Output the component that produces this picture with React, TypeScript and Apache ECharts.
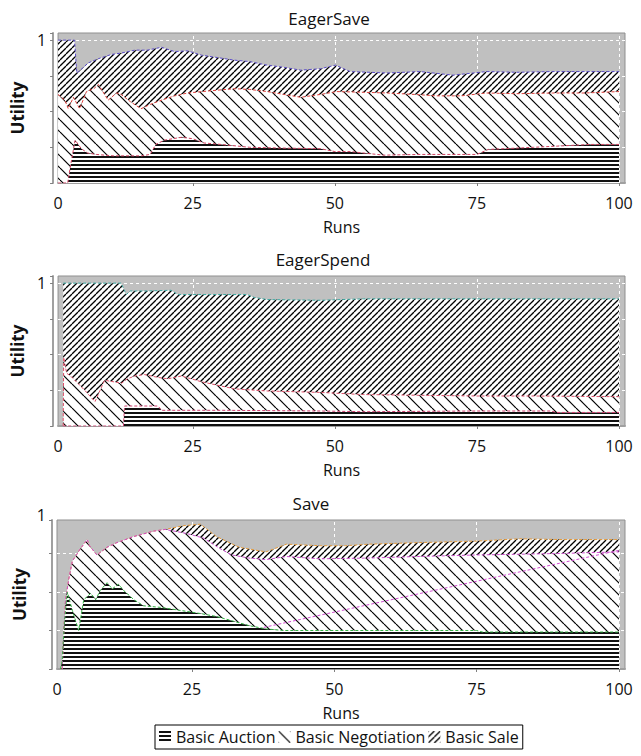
import React, { useEffect, useRef } from 'react';
import * as echarts from 'echarts';

const FONT = '"Open Sans", "Noto Sans", sans-serif';

const PANEL_TITLES = ['EagerSave', 'EagerSpend', 'Save'];
const SERIES_NAMES = ['Basic Auction', 'Basic Negotiation', 'Basic Sale'];
const X_TICKS = [25, 50, 75, 100];
const X_LABEL_VALUES = [1.3, 25, 50, 75, 100];

// ---- EagerSave (cumulative boundaries: top of each band) ----
const eagerSaveSaleTop: [number, number][] = [
  [1.3, 1.0], [4.2, 1.0], [4.6, 0.77], [5.5, 0.8], [6.6, 0.84], [8.4, 0.87], [10.7, 0.9], [12.5, 0.91],
  [14.8, 0.93], [17, 0.93], [19.5, 0.95], [21.8, 0.92], [24.1, 0.925], [26.5, 0.895], [29, 0.88],
  [32.3, 0.86], [35, 0.85], [38.1, 0.825], [41, 0.81], [44, 0.79], [47.5, 0.8], [50.1, 0.825],
  [52.7, 0.78], [56, 0.775], [59.2, 0.77], [65, 0.78], [70.8, 0.755], [76.7, 0.78], [82, 0.775],
  [88.3, 0.78], [94, 0.78], [100, 0.78],
];
const eagerSaveNegotiationTop: [number, number][] = [
  [1.3, 0.62], [2.5, 0.58], [3.1, 0.52], [4.0, 0.6], [5.1, 0.52], [6.3, 0.64], [7.6, 0.66], [8.4, 0.69],
  [10.1, 0.58], [11.6, 0.63], [12.4, 0.62], [14, 0.57], [15.9, 0.52], [17.5, 0.55], [19.5, 0.58],
  [21.8, 0.61], [24.1, 0.63], [28, 0.645], [32.3, 0.66], [35, 0.655], [38.1, 0.64], [41, 0.62],
  [44, 0.6], [47.5, 0.62], [50.3, 0.64], [55, 0.635], [59.2, 0.63], [64, 0.62], [68, 0.61],
  [72.2, 0.61], [76.7, 0.63], [82, 0.625], [88.3, 0.63], [94, 0.63], [100, 0.64],
];
const eagerSaveAuctionTop: [number, number][] = [
  [1.3, 0], [3.0, 0], [3.4, 0.1], [4.3, 0.3], [5.4, 0.24], [6.5, 0.21], [8, 0.2], [11, 0.19], [16, 0.19],
  [17.5, 0.2], [18.5, 0.27], [20, 0.3], [23, 0.32], [25, 0.31], [27, 0.28], [30, 0.27], [35, 0.25],
  [40, 0.245], [47.5, 0.24], [50, 0.22], [52.7, 0.22], [58.6, 0.195], [65, 0.2], [75, 0.2], [77, 0.235],
  [85, 0.25], [90, 0.26], [95, 0.27], [100, 0.27],
];

// ---- EagerSpend ----
const eagerSpendSaleTop: [number, number][] = [
  [2.2, 1.0], [12.4, 1.0], [13.3, 0.92], [14, 0.945], [17, 0.945], [21.2, 0.95], [22.4, 0.92],
  [28, 0.92], [34.6, 0.92], [35.8, 0.9], [38.1, 0.885], [47.5, 0.88], [55, 0.89], [65, 0.89],
  [75, 0.89], [85, 0.89], [100, 0.89],
];
const eagerSpendNegotiationTop: [number, number][] = [
  [2.2, 0], [2.3, 0.48], [2.8, 0.37], [3.5, 0.35], [6.0, 0.25], [7.8, 0.17], [8.7, 0.25], [9.5, 0.32],
  [12.5, 0.3], [13.5, 0.33], [14.8, 0.35], [16.5, 0.36], [18.9, 0.34], [20.6, 0.33], [23, 0.35],
  [26.5, 0.31], [32.3, 0.26], [38.1, 0.245], [47.5, 0.235], [55, 0.22], [65, 0.215], [75, 0.21],
  [85, 0.21], [100, 0.205],
];
const eagerSpendAuctionTop: [number, number][] = [
  [2.2, 0], [12.8, 0], [13.0, 0.14], [18.9, 0.14], [19.5, 0.11], [30, 0.11], [47.5, 0.105], [55, 0.1],
  [75, 0.105], [88, 0.105], [89, 0.095], [100, 0.095],
];

// ---- Save ----
const saveSaleTop: [number, number][] = [
  [2.2, 0], [2.5, 0.25], [2.8, 0.45], [3.4, 0.59], [4.0, 0.7], [5.4, 0.78], [6.6, 0.84], [7.0, 0.8],
  [8.3, 0.74], [10.1, 0.79], [11.8, 0.82], [14.8, 0.86], [18.3, 0.895], [20.3, 0.906], [23.5, 0.93],
  [26.5, 0.94], [29.3, 0.86], [33.3, 0.79], [38, 0.76], [41.6, 0.81], [47.5, 0.8], [52, 0.8],
  [56, 0.81], [64.6, 0.82], [75, 0.83], [82.6, 0.845], [90, 0.84], [100, 0.84],
];
const saveNegotiationTop: [number, number][] = [
  [2.2, 0], [2.5, 0.25], [2.8, 0.45], [3.4, 0.59], [4.0, 0.7], [5.4, 0.78], [6.6, 0.84], [7.0, 0.8],
  [8.3, 0.74], [10.1, 0.79], [11.8, 0.82], [14.8, 0.86], [18.3, 0.895], [20.3, 0.906], [24, 0.88],
  [27, 0.85], [30, 0.78], [32, 0.74], [35, 0.72], [38, 0.71], [41.6, 0.73], [47.5, 0.715], [56, 0.72],
  [64.6, 0.73], [75, 0.74], [82.6, 0.745], [90, 0.75], [100, 0.76],
];
const saveAuctionTop: [number, number][] = [
  [1.9, 0], [2.2, 0.05], [2.6, 0.3], [3.1, 0.5], [4.0, 0.38], [5.1, 0.25], [6.0, 0.45], [7.2, 0.49],
  [8.1, 0.45], [8.9, 0.51], [10.1, 0.56], [11.0, 0.52], [12.1, 0.55], [13.0, 0.51], [14.8, 0.45],
  [16.5, 0.41], [19.5, 0.4], [23, 0.38], [26.5, 0.36], [29.4, 0.34], [32.3, 0.31], [35.2, 0.28],
  [38.1, 0.26], [41.1, 0.25], [47.5, 0.25], [60, 0.25], [75, 0.25], [76, 0.24], [100, 0.24],
];
const saveNegotiationTrend: [number, number][] = [[37.6, 0.27], [100, 0.77]];

function hatch(kind: 'h' | 'b' | 'f') {
  const s = kind === 'h' ? 4 : kind === 'b' ? 12 : 6;
  const c = document.createElement('canvas');
  c.width = s;
  c.height = s;
  const g = c.getContext('2d')!;
  g.fillStyle = '#ffffff';
  g.fillRect(0, 0, s, s);
  if (kind === 'h') {
    g.fillStyle = '#111111';
    g.fillRect(0, 0, s, 2);
  } else {
    g.strokeStyle = '#000000';
    g.lineWidth = kind === 'b' ? 1.2 : 1.3;
    for (const k of [-1, 0, 1]) {
      g.beginPath();
      if (kind === 'b') {
        g.moveTo(k * s, 0);
        g.lineTo(k * s + s, s);
      } else {
        g.moveTo(k * s, s);
        g.lineTo(k * s + s, 0);
      }
      g.stroke();
    }
  }
  return { image: c, repeat: 'repeat' };
}

export default function App() {
  const ref = useRef<HTMLDivElement>(null);

  useEffect(() => {
    if (!ref.current) return;
    const chart = echarts.init(ref.current, null, { renderer: 'svg' });
    const pAuction = hatch('h');
    const pNeg = hatch('b');
    const pSale = hatch('f');

    const grids = [
      { top: 33, height: 150 },
      { top: 276, height: 150 },
      { top: 520, height: 149 },
    ].map((g) => ({
      left: 57,
      right: 16,
      top: g.top,
      height: g.height,
      show: true,
      backgroundColor: '#c0c0c0',
      borderColor: '#8f8f8f',
      borderWidth: 1,
    }));

    const panels = [
      { sale: eagerSaveSaleTop, neg: eagerSaveNegotiationTop, auc: eagerSaveAuctionTop, colors: ['#5a4bc8', '#e0403c', '#d04060'] },
      { sale: eagerSpendSaleTop, neg: eagerSpendNegotiationTop, auc: eagerSpendAuctionTop, colors: ['#3aa7a0', '#e0506a', '#d04070'] },
      { sale: saveSaleTop, neg: saveNegotiationTop, auc: saveAuctionTop, colors: ['#e49a3a', '#d04cd0', '#30b040'] },
    ];

    const area = (name: string, data: [number, number][], idx: number, pattern: any, color: string, extra: any = {}) => ({
      type: 'line',
      name,
      xAxisIndex: idx,
      yAxisIndex: idx,
      data,
      symbol: 'none',
      silent: true,
      z: 2,
      itemStyle: { color: '#000' },
      lineStyle: { color, width: 1, type: [3, 2] },
      areaStyle: { color: pattern, opacity: 1 },
      ...extra,
    });

    const series: any[] = [];
    panels.forEach((p, i) => {
      series.push(
        area(SERIES_NAMES[2], p.sale, i, pSale, p.colors[0], {
          markLine: {
            silent: true,
            symbol: 'none',
            z: 1,
            label: { show: false },
            lineStyle: { color: '#ffffff', type: [3, 3], width: 1 },
            data: X_TICKS.map((v) => ({ xAxis: v })),
          },
        }),
      );
      series.push(area(SERIES_NAMES[1], p.neg, i, pNeg, p.colors[1]));
      series.push(area(SERIES_NAMES[0], p.auc, i, pAuction, p.colors[2]));
    });
    series.push({
      type: 'line',
      name: 'trend',
      xAxisIndex: 2,
      yAxisIndex: 2,
      data: saveNegotiationTrend,
      symbol: 'none',
      silent: true,
      z: 3,
      lineStyle: { color: '#d04cd0', width: 1, type: [3, 2] },
    });

    const axisLine = { show: true, lineStyle: { color: '#a0a0a0', width: 2 } };
    const txt = { color: '#111', fontFamily: FONT, fontSize: 17, lineHeight: 18 };
    const axTxt = { color: '#111', fontFamily: FONT, fontSize: 16, lineHeight: 18 };

    const xAxis = [0, 1, 2].map((i) => ({
      type: 'value',
      gridIndex: i,
      min: 1.3,
      max: 101.05,
      offset: 5,
      axisLine,
      axisTick: { show: true, customValues: X_TICKS, length: 3, lineStyle: { color: '#808080' } },
      axisLabel: {
        customValues: X_LABEL_VALUES,
        formatter: (v: number) => (v < 2 ? '0' : String(v)),
        margin: 6,
        ...axTxt,
      },
      splitLine: { show: false },
      name: 'Runs',
      nameLocation: 'middle',
      nameGap: 30,
      nameTextStyle: { ...axTxt },
    }));

    const yAxis = [0, 1, 2].map((i) => ({
      type: 'value',
      gridIndex: i,
      min: 0,
      max: i === 2 ? 0.967 : 1.05,
      interval: 0.25,
      offset: 5,
      axisLine,
      axisTick: { show: true, length: 3, lineStyle: { color: '#808080' } },
      axisLabel: i < 2 ? { customValues: [1], margin: 7, ...axTxt } : { show: false },
      splitLine: {
        show: true,
        showMinLine: false,
        showMaxLine: false,
        lineStyle: { color: '#ffffff', type: [3, 3], width: 1 },
      },
      name: 'Utility',
      nameLocation: 'middle',
      nameGap: 24,
      nameTextStyle: { ...txt, fontWeight: 'bold' },
    }));

    const titleCenters = [329, 323, 311];
    const titleTops = [9, 250, 494];
    const title = PANEL_TITLES.map((t, i) => ({
      text: t,
      left: titleCenters[i],
      top: titleTops[i],
      textAlign: 'center',
      padding: 0,
      textStyle: { ...txt, fontWeight: 'normal' },
    }));

    chart.setOption({
      animation: false,
      backgroundColor: '#ffffff',
      textStyle: { fontFamily: FONT },
      title,
      grid: grids,
      xAxis,
      yAxis,
      series,
      legend: {
        top: 725,
        left: 155,
        selectedMode: false,
        itemWidth: 12,
        itemHeight: 12,
        itemGap: 3,
        padding: [4, 4],
        borderColor: '#000',
        borderWidth: 1,
        backgroundColor: '#fff',
        textStyle: { color: '#111', fontFamily: FONT, fontSize: 16 },
        data: [
          { name: SERIES_NAMES[0], icon: 'rect', itemStyle: { color: pAuction, borderWidth: 0 } },
          { name: SERIES_NAMES[1], icon: 'rect', itemStyle: { color: pNeg, borderWidth: 0 } },
          { name: SERIES_NAMES[2], icon: 'rect', itemStyle: { color: pSale, borderWidth: 0 } },
        ],
      },
      graphic: [
        {
          type: 'text',
          x: 46,
          y: 515,
          silent: true,
          style: { text: '1', align: 'right', verticalAlign: 'middle', fill: '#111', font: `16px ${FONT}` },
        },
      ],
    });
    return () => chart.dispose();
  }, []);

  return <div ref={ref} style={{ position: 'absolute', left: 0, top: 0, width: 641, height: 756 }} />;
}
